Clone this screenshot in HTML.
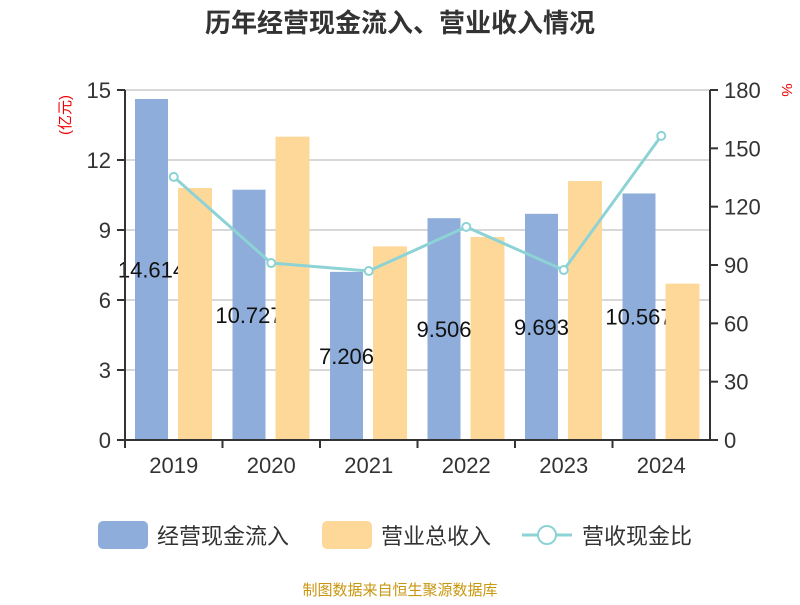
<!DOCTYPE html>
<html><head><meta charset="utf-8"><style>
body{margin:0;background:#fff;}
text{font-family:"Liberation Sans","Noto Sans CJK SC",sans-serif;}
</style></head><body>
<svg id="c" width="800" height="600" xmlns="http://www.w3.org/2000/svg">
<text x="400" y="32" text-anchor="middle" font-size="26" font-weight="bold" fill="#333">历年经营现金流入、营业收入情况</text>
<text transform="translate(70,115) rotate(-90)" text-anchor="middle" font-size="15" fill="#e00">(亿元)</text>
<text transform="translate(782,90) rotate(90)" text-anchor="middle" font-size="15" fill="#e00">%</text>
<g id="grid"></g><g id="bars1"></g><g id="labels"></g><g id="bars2"></g><g id="axes"></g><g id="line"></g>
<g>
<rect x="98" y="521" width="50" height="28" rx="5" fill="#8eadda"/>
<text x="157" y="544" font-size="22" fill="#333">经营现金流入</text>
<rect x="322" y="521" width="50" height="28" rx="5" fill="#fed899"/>
<text x="381" y="544" font-size="22" fill="#333">营业总收入</text>
<line x1="522" y1="535" x2="572" y2="535" stroke="#8dd3d6" stroke-width="3"/>
<circle cx="547" cy="535" r="9" fill="#fff" stroke="#8dd3d6" stroke-width="2"/>
<text x="582" y="544" font-size="22" fill="#333">营收现金比</text>
</g>
<text x="400" y="595" text-anchor="middle" font-size="15" fill="#c8960f">制图数据来自恒生聚源数据库</text>
</svg>
<script>
const categories=["2019","2020","2021","2022","2023","2024"];
const cashInflow=[14.614,10.727,7.206,9.506,9.693,10.567];
const revenue=[10.8,13.0,8.3,8.7,11.1,6.7];
const ratio=[135.3,91,86.9,109.6,87.4,156.4];
const leftTicks=[0,3,6,9,12,15];
const rightTicks=[0,30,60,90,120,150,180];
const NS="http://www.w3.org/2000/svg";
const X0=125,X1=710,Y0=440,Y1=90;
const bw=(X1-X0)/categories.length;
const yL=v=>Y0-(v/15)*(Y0-Y1);
const yR=v=>Y0-(v/180)*(Y0-Y1);
function mk(t,a,p,txt){const e=document.createElementNS(NS,t);for(const k in a)e.setAttribute(k,a[k]);if(txt!==undefined)e.textContent=txt;document.getElementById(p).appendChild(e);return e;}
leftTicks.forEach(v=>{
 if(v>0){const g=mk('line',{x1:X0,x2:X1,y1:yL(v),y2:yL(v),stroke:'#ccc','stroke-width':1.5},'grid');
 
 }
 const t=mk('line',{x1:X0-8,x2:X0,y1:yL(v),y2:yL(v),stroke:'#333','stroke-width':2},'axes');
 
 
 const l=mk('text',{x:X0-14,y:yL(v)+8,'text-anchor':'end','font-size':22,fill:'#333'},'axes',String(v));
 
 
});
rightTicks.forEach(v=>{
 const t=mk('line',{x1:X1,x2:X1+8,y1:yR(v),y2:yR(v),stroke:'#333','stroke-width':2},'axes');
 
 
 const l=mk('text',{x:X1+14,y:yR(v)+8,'font-size':22,fill:'#333'},'axes',String(v));
 
 
});
let a=mk('line',{x1:X0,x2:X0,y1:Y1,y2:Y0,stroke:'#333','stroke-width':2},'axes');


a=mk('line',{x1:X1,x2:X1,y1:Y1,y2:Y0,stroke:'#333','stroke-width':2},'axes');


a=mk('line',{x1:X0,x2:X1,y1:Y0,y2:Y0,stroke:'#333','stroke-width':2},'axes');


const pts=[];
categories.forEach((c,i)=>{
 const x=X0+i*bw;
 const t=mk('line',{x1:x,x2:x,y1:Y0,y2:Y0+8,stroke:'#333','stroke-width':2},'axes');
 
 
 const l=mk('text',{x:x+bw/2,y:Y0+33,'text-anchor':'middle','font-size':22,fill:'#333'},'axes',c);
 
 
 const b=mk('rect',{x:x+10,y:yL(cashInflow[i]),width:33,height:Y0-yL(cashInflow[i]),fill:'#8eadda'},'bars1');
 
 
 const v=mk('text',{x:x+26.5,y:(yL(cashInflow[i])+Y0)/2+8,'text-anchor':'middle','font-size':22,fill:'#111'},'labels',String(cashInflow[i]));
 
 
 const r=mk('rect',{x:x+53,y:yL(revenue[i]),width:34,height:Y0-yL(revenue[i]),fill:'#fed899'},'bars2');
 
 
 pts.push([x+bw/2,yR(ratio[i])]);
});
const pl=mk('polyline',{points:pts.map(p=>p.join(',')).join(' '),fill:'none',stroke:'#8dd3d6','stroke-width':3},'line');


pts.forEach((p,i)=>{
 const d=mk('circle',{cx:p[0],cy:p[1],r:4,fill:'#fff',stroke:'#8dd3d6','stroke-width':2},'line');
 
 
});
</script>
</body></html>
